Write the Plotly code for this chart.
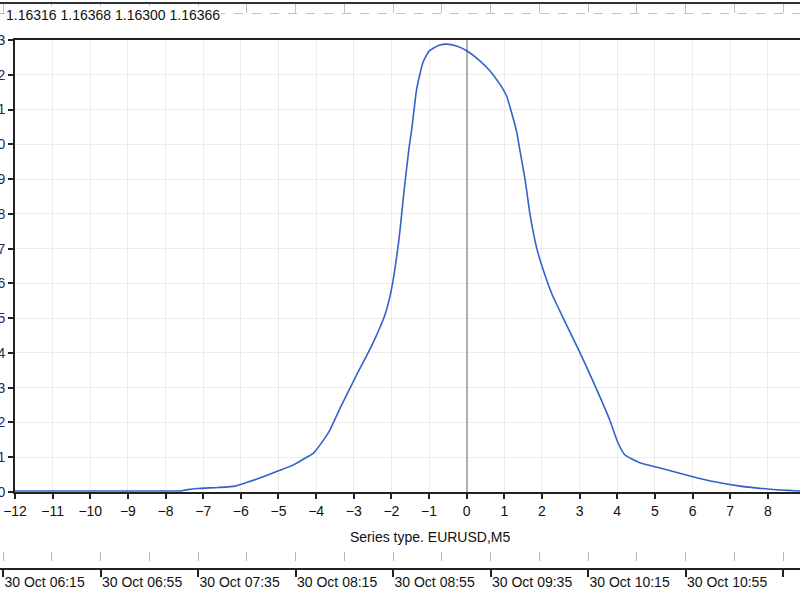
import plotly.graph_objects as go

# ---- data ----
x_vals = [-12, -11, -10, -9, -8, -7.6, -7.45, -7.15, -6.6, -6.15, -5.85, -5.5, -5.0,
          -4.6, -4.25, -4.07, -3.8, -3.63, -3.36, -2.96, -2.51, -2.17, -2.0, -1.8,
          -1.66, -1.53, -1.46, -1.33, -1.16, -1.0, -0.75, -0.54, -0.25, 0.0, 0.35,
          0.62, 0.88, 1.06, 1.19, 1.33, 1.40, 1.55, 1.68, 1.87, 2.03, 2.27, 2.61,
          3.0, 3.4, 3.8, 4.02, 4.2, 4.6, 5.14, 5.93, 6.55, 7.26, 8.06, 8.86]
y_vals = [0.0003, 0.0003, 0.0003, 0.0003, 0.0003, 0.0003, 0.0006, 0.0010, 0.0013, 0.0017,
          0.0027, 0.0040, 0.0061, 0.0078, 0.0100, 0.0112, 0.0150, 0.0179, 0.0242,
          0.0329, 0.0424, 0.0510, 0.0582, 0.0726, 0.0870, 0.0991, 0.1043, 0.1158,
          0.1236, 0.1268, 0.1284, 0.1288, 0.1282, 0.1269, 0.1240, 0.1211, 0.1173,
          0.1139, 0.1092, 0.1035, 0.0991, 0.0900, 0.0800, 0.0697, 0.0640, 0.0568,
          0.0490, 0.0403, 0.0308, 0.0207, 0.0141, 0.0107, 0.0084, 0.0069, 0.0046,
          0.0030, 0.0017, 0.0008, 0.0003]

y_tick_vals = [i / 100 for i in range(0, 14)]
x_tick_vals = list(range(-12, 9))
header_text = "1.16316 1.16368 1.16300 1.16366"
series_title = "Series type. EURUSD,M5"
time_range = ["2017-10-30 06:13:46", "2017-10-30 11:41:58"]
time_tick0 = "2017-10-30 06:15"

FONT = "Liberation Sans, Arial, sans-serif"
W, H = 800, 600

def py(px):
    return 1 - px / H

fig = go.Figure()
fig.add_trace(go.Scatter(x=x_vals, y=y_vals, mode="lines",
                         line=dict(color="#3163C9", width=1.6, shape="spline", smoothing=0.5),
                         hoverinfo="skip", showlegend=False))

# invisible helper traces for the time axes
fig.add_trace(go.Scatter(x=time_range, y=[0, 0], xaxis="x2", yaxis="y2",
                         mode="lines", line=dict(width=0), showlegend=False, hoverinfo="skip"))
fig.add_trace(go.Scatter(x=time_range, y=[0, 0], xaxis="x3", yaxis="y3",
                         mode="lines", line=dict(width=0), showlegend=False, hoverinfo="skip"))

fig.update_layout(
    width=W, height=H,
    margin=dict(l=0, r=0, t=0, b=0),
    paper_bgcolor="white", plot_bgcolor="white",
    font=dict(family=FONT, size=14, color="#111"),
    xaxis=dict(domain=[15 / W, 1], range=[-12, 8.855], tickmode="array",
               tickvals=x_tick_vals, ticks="outside", ticklen=5, tickwidth=1.5,
               tickcolor="#222", showline=True, linecolor="#222", linewidth=2,
               mirror=True, showgrid=True, gridcolor="#ececec", gridwidth=1,
               zeroline=True, zerolinecolor="#b0b0b0", zerolinewidth=1.5,
               automargin=False, tickfont=dict(size=14, family=FONT, color="#111"),
               anchor="y"),
    yaxis=dict(domain=[py(492), py(40)], range=[0, 0.13], tickmode="array",
               tickvals=y_tick_vals, tickformat=".2f", ticks="outside", ticklen=5,
               tickwidth=1.5, tickcolor="#222", showline=True, linecolor="#222",
               linewidth=2, showgrid=True, gridcolor="#ececec", gridwidth=1,
               zeroline=False, automargin=False, ticklabelstandoff=0,
               tickfont=dict(size=14, family=FONT, color="#1a2a5a"), anchor="x"),
    xaxis2=dict(domain=[0, 1], anchor="y2", type="date", range=time_range,
                tick0=time_tick0, dtick=40 * 60 * 1000, tickformat="%d %b %H:%M",
                ticklabelposition="outside right", ticks="outside", ticklen=7,
                tickwidth=1.5, tickcolor="#222", showline=True, linecolor="#222",
                linewidth=1.5, showgrid=True, gridcolor="#b8b8b8", griddash="dash",
                minor=dict(dtick=20 * 60 * 1000, tick0=time_tick0, showgrid=True,
                           gridcolor="#b8b8b8", griddash="dash"),
                zeroline=False, automargin=False,
                tickfont=dict(size=14, family=FONT, color="#111")),
    yaxis2=dict(domain=[py(568), py(552)], anchor="x2", range=[0, 1], visible=False),
    xaxis3=dict(domain=[0, 1], anchor="y3", type="date", range=time_range, side="top",
                tick0=time_tick0, dtick=40 * 60 * 1000, showticklabels=False,
                ticks="", showline=True, linecolor="#333", linewidth=2,
                showgrid=True, gridcolor="#c0c0c0", griddash="dash",
                minor=dict(dtick=20 * 60 * 1000, tick0=time_tick0, showgrid=True,
                           gridcolor="#c0c0c0", griddash="dash"),
                zeroline=False, automargin=False),
    yaxis3=dict(domain=[py(17), py(4)], anchor="x3", range=[0, 1], tickmode="array",
                tickvals=[0.3], showticklabels=False, ticks="", showline=False,
                showgrid=True, gridcolor="#c0c0c0", griddash="dash", zeroline=False,
                automargin=False),
    annotations=[
        dict(text=header_text, xref="paper", yref="paper", x=5 / W, y=py(15),
             xanchor="left", yanchor="middle", showarrow=False, bgcolor="white",
             borderpad=0, font=dict(size=14, family=FONT, color="#111")),
        dict(text=series_title, xref="paper", yref="paper", x=430 / W, y=py(537),
             xanchor="center", yanchor="middle", showarrow=False,
             font=dict(size=14, family=FONT, color="#111")),
    ],
)

fig.write_html("out.html")
